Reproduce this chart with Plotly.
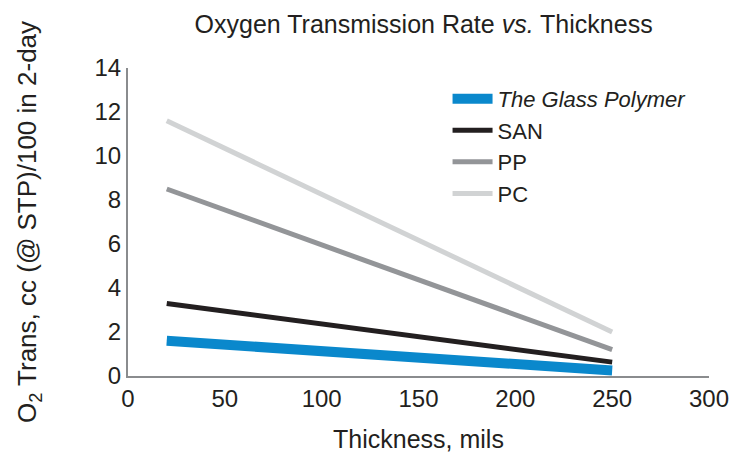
import plotly.graph_objects as go

thickness = [20, 250]
glass = [1.6, 0.25]
san = [3.3, 0.63]
pp = [8.5, 1.2]
pc = [11.6, 2.0]

series = [
    ("<i>The Glass Polymer</i>", glass, "#0a88cc", 10),
    ("SAN", san, "#231f20", 5),
    ("PP", pp, "#939598", 5),
    ("PC", pc, "#d1d3d4", 5),
]

fig = go.Figure()
for name, ys, color, w in series:
    fig.add_trace(go.Scatter(x=thickness, y=ys, mode="lines", name=name,
                             line=dict(color=color, width=w)))

font = "Liberation Sans"
fig.update_layout(
    width=733, height=453,
    paper_bgcolor="white", plot_bgcolor="white",
    margin=dict(l=120, r=23, t=60, b=71),
    font=dict(family=font, color="#231f20", size=24),
    title=dict(text="Oxygen Transmission Rate <i>vs.</i> Thickness", x=0.567, xanchor="center",
               y=0.965, yanchor="middle", font=dict(size=25)),
    showlegend=True,
    legend=dict(x=0.55, y=0.968, xanchor="left", yanchor="top",
                bgcolor="rgba(0,0,0,0)", font=dict(size=22), tracegroupgap=0,
                itemwidth=40),
    xaxis=dict(range=[0, 300], tickvals=[0, 50, 100, 150, 200, 250, 300],
               showgrid=False, zeroline=False, showline=True, linecolor="#8a8c8e",
               linewidth=2, ticks="", tickfont=dict(size=24),
               title=dict(text="Thickness, mils", standoff=20, font=dict(size=25))),
    yaxis=dict(range=[0, 14], tickvals=list(range(0, 15, 2)),
               showgrid=False, zeroline=False, showline=True, linecolor="#8a8c8e",
               linewidth=2, ticks="", tickfont=dict(size=24),
               title=dict(text="O<sub>2</sub> Trans, cc (@ STP)/100 in 2-day", standoff=50,
                          font=dict(size=26))),
)

fig.write_html("out.html")
